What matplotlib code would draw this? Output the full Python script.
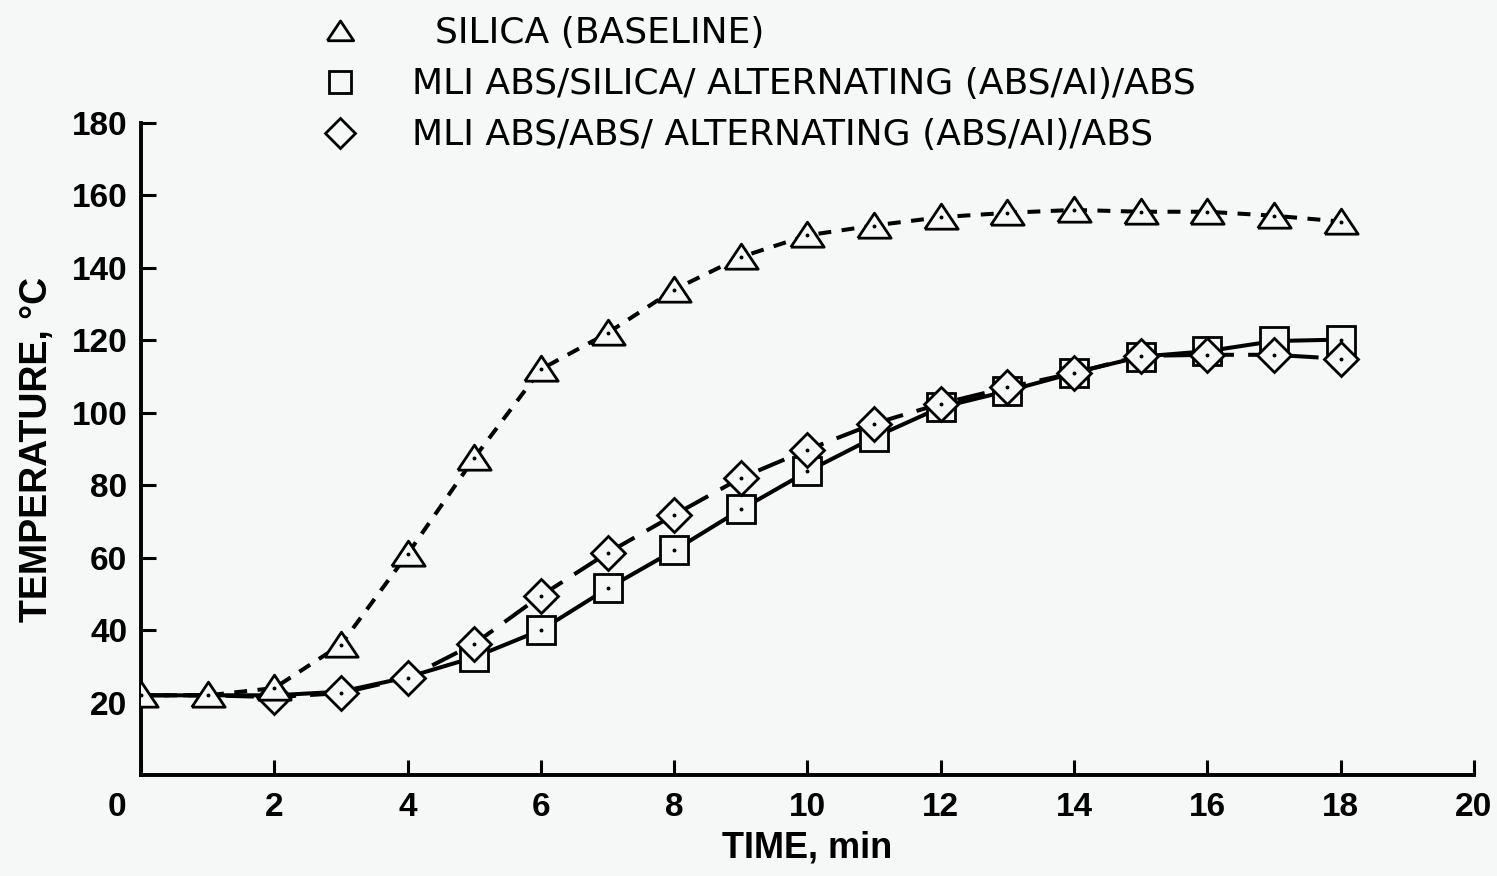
import numpy as np
import matplotlib
matplotlib.use("Agg")
import matplotlib.pyplot as plt
from matplotlib.lines import Line2D

# valeurs
time_min = [0, 1, 2, 3, 4, 5, 6, 7, 8, 9, 10, 11, 12, 13, 14, 15, 16, 17, 18]
silica = [22, 22, 24, 36, 61, 87.5, 112, 122, 134, 143, 149, 151.7, 154,
          155.2, 156, 155.5, 155.5, 154.4, 152.8]
mli_silica = [22, 22, 22, 23, 27, 32.5, 40, 51.5, 62, 73.3, 83.8, 93.2, 101.5,
              106, 111, 115.5, 117, 119.8, 120.2]
mli_abs = [22, 22, 21.5, 22.6, 26.8, 36.2, 49.5, 61.3, 71.8, 82, 89.8, 97,
           102.5, 107, 111, 115.7, 116, 116, 114.9]

labels = ["  SILICA (BASELINE)",
          "MLI ABS/SILICA/ ALTERNATING (ABS/AI)/ABS",
          "MLI ABS/ABS/ ALTERNATING (ABS/AI)/ABS"]

BG = "#f6f7f7"
FONT = ["Liberation Sans", "DejaVu Sans"]
plt.rcParams["font.family"] = FONT

# triangle aplati comme sur l'original
tri = [(-1, -0.7), (1, -0.7), (0, 0.8), (-1, -0.7)]

fig = plt.figure(figsize=(14.97, 8.76), dpi=100, facecolor=BG)
ax = fig.add_axes([0.0942, 0.1153, 0.8904, 0.7443])
ax.set_facecolor(BG)

lw = 2.9
# lignes
ax.plot(time_min, mli_silica, color="black", lw=lw, zorder=2)
ax.plot(time_min, mli_abs, color="black", lw=lw, dashes=(7, 3.5), zorder=2)
ax.plot(time_min, silica, color="black", lw=lw, dashes=(3.2, 2.6), zorder=2)

# symboles (les premiers points se confondent, seul le triangle est dessine)
mk = dict(ls="none", mfc=BG, mec="black", mew=2.0)
ax.plot(time_min[5:], mli_silica[5:], marker="s", ms=20, zorder=3, **mk)
ax.plot(time_min[2:], mli_abs[2:], marker="D", ms=17.5, zorder=4, **mk)
ax.plot(time_min, silica, marker=tri, ms=24, zorder=5, **mk)
for xs, ys, z in [(time_min[5:], mli_silica[5:], 3.5),
                  (time_min[2:], mli_abs[2:], 4.5),
                  (time_min, silica, 5.5)]:
    ax.plot(xs, ys, ls="none", marker="o", ms=1.8, color="black", zorder=z)

ax.set_xlim(0, 20)
ax.set_ylim(0, 180)
ax.set_xticks(range(0, 21, 2))
ax.set_yticks(range(20, 181, 20))
ax.set_xticklabels([""] + [str(v) for v in range(2, 21, 2)])
ax.text(-0.018, -0.026, "0", transform=ax.transAxes, ha="center", va="top",
        fontsize=24, fontweight="bold")

for s in ["top", "right"]:
    ax.spines[s].set_visible(False)
for s in ["left", "bottom"]:
    ax.spines[s].set_linewidth(2.8)
ax.tick_params(axis="both", direction="in", length=11, width=2.2,
               labelsize=24)
ax.tick_params(axis="x", pad=12)
ax.tick_params(axis="y", pad=10)
for t in ax.get_xticklabels() + ax.get_yticklabels():
    t.set_fontweight("bold")

ax.set_xlabel("TIME, min", fontsize=26, fontweight="bold", labelpad=6)
ax.set_ylabel("TEMPERATURE, °C", fontsize=27, fontweight="bold", labelpad=12)

# legende
handles = [
    Line2D([], [], ls="none", marker=tri, ms=19, mfc=BG, mec="black", mew=2.0),
    Line2D([], [], ls="none", marker="s", ms=16, mfc=BG, mec="black", mew=2.0),
    Line2D([], [], ls="none", marker="D", ms=15, mfc=BG, mec="black", mew=2.0),
]
fig.legend(handles, labels, loc="upper left", bbox_to_anchor=(0.208, 0.998),
           frameon=False, prop={"family": "DejaVu Sans", "size": 26},
           handletextpad=1.6, labelspacing=0.47, handlelength=0.8,
           borderaxespad=0)

fig.savefig("out.png", dpi=100, facecolor=BG)
